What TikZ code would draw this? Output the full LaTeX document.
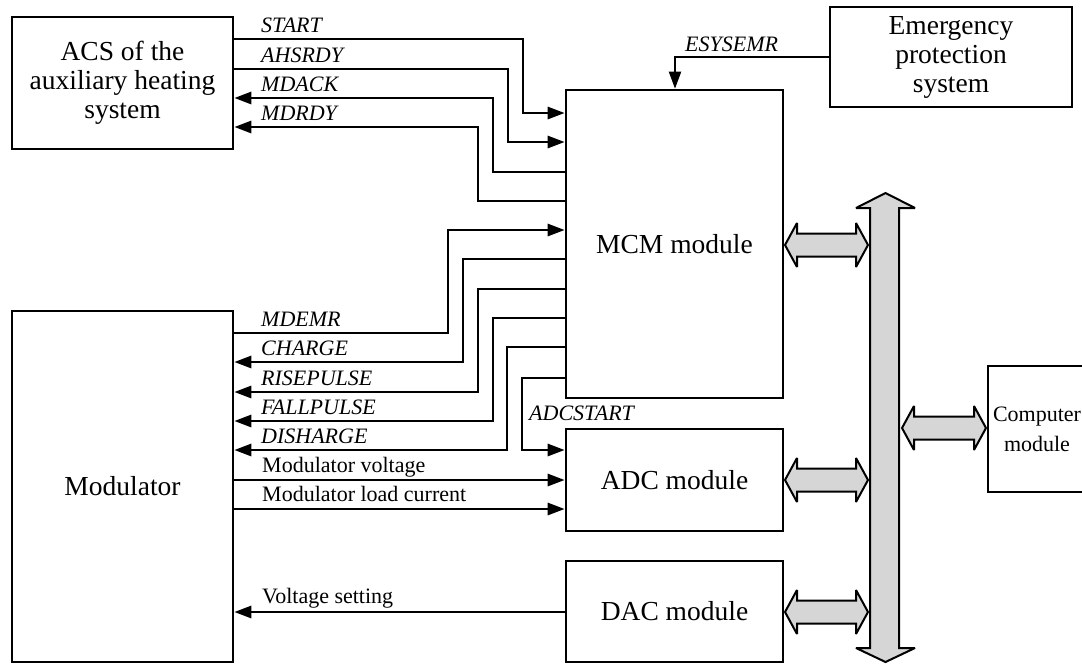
\documentclass[tikz,border=0pt]{standalone}
\usepackage{fontspec}
\setmainfont{Liberation Serif}
\usetikzlibrary{arrows.meta,calc}
\definecolor{busgray}{gray}{0.84}
\begin{document}
\begin{tikzpicture}[x=1pt,y=-1pt,
  box/.style={draw,line width=2.6pt,rectangle,align=center,inner sep=0pt,
     font=\fontsize{27.5}{29}\selectfont},
  sig/.style={line width=2.8pt},
  thinsig/.style={line width=2pt},
  tip/.style={-{Triangle[length=17pt,width=12pt]}},
  lbl/.style={anchor=base west,inner sep=0pt,font=\fontsize{22}{23}\selectfont\itshape},
  lbln/.style={anchor=base west,inner sep=0pt,font=\fontsize{22}{23}\selectfont},
  bus/.style={draw,line width=2pt,fill=busgray,line join=miter,miter limit=3}]
\useasboundingbox (0,0) rectangle (1082,664);

% boxes
\node[box,minimum width=221pt,minimum height=132pt] (acs) at (122.5,83) {ACS of the\\auxiliary heating\\system};
\node[box,minimum width=242pt,minimum height=100pt] (emg) at (951,57) {Emergency\\protection\\system};
\node[box,minimum width=217pt,minimum height=308pt] (mcm) at (674.5,244) {MCM module};
\node[box,minimum width=217pt,minimum height=102pt] (adc) at (674.5,480) {ADC module};
\node[box,minimum width=217pt,minimum height=101pt] (dac) at (674.5,611.5) {DAC module};
\node[box,minimum width=221pt,minimum height=351pt] (mod) at (122.5,486.5) {Modulator};
\begin{scope}
\clip (0,0) rectangle (1082,664);
\node[box,minimum width=98pt,minimum height=126pt,font=\fontsize{22}{30}\selectfont] (comp) at (1037,429) {Computer\\module};
\end{scope}

% ACS <-> MCM
\draw[sig,tip] (acs.east |- 0,39) -| (523,113) -- (mcm.west |- 0,113);
\draw[sig,tip] (acs.east |- 0,69) -| (508,142) -- (mcm.west |- 0,142);
\draw[sig,tip] (mcm.west |- 0,172) -| (493,98) -- (acs.east |- 0,98);
\draw[sig,tip] (mcm.west |- 0,201) -| (478,127) -- (acs.east |- 0,127);
\node[lbl] (lstart) at (261,32) {START};
\node[lbl] (lahs) at (261,62) {AHSRDY};
\node[lbl] (lmdack) at (261,91) {MDACK};
\node[lbl] (lmdrdy) at (261,120) {MDRDY};

% Emergency -> MCM
\draw[thinsig,tip] (emg.west) -| (mcm.north -| 675,0);
\node[lbl] (lesys) at (685,51) {ESYSEMR};

% Modulator <-> MCM
\draw[sig,tip] (mod.east |- 0,333) -| (448,230) -- (mcm.west |- 0,230);
\draw[sig,tip] (mcm.west |- 0,259) -| (463,362) -- (mod.east |- 0,362);
\draw[sig,tip] (mcm.west |- 0,289) -| (478,392) -- (mod.east |- 0,392);
\draw[sig,tip] (mcm.west |- 0,318) -| (493,421) -- (mod.east |- 0,421);
\draw[sig,tip] (mcm.west |- 0,347) -| (507,450) -- (mod.east |- 0,450);
\node[lbl] (lmdemr) at (261,326) {MDEMR};
\node[lbl] (lcharge) at (261,355) {CHARGE};
\node[lbl] (lrise) at (261,385) {RISEPULSE};
\node[lbl] (lfall) at (261,414) {FALLPULSE};
\node[lbl] (ldis) at (261,443) {DISHARGE};

% MCM -> ADC
\draw[sig,tip] (mcm.west |- 0,378) -| (522,450) -- (adc.west |- 0,450);
\node[lbl] (ladc) at (529,420) {ADCSTART};

% Modulator <-> ADC / DAC
\draw[sig,tip] (mod.east |- 0,480) -- (adc.west |- 0,480);
\draw[sig,tip] (mod.east |- 0,509) -- (adc.west |- 0,509);
\draw[sig,tip] (dac.west |- 0,612) -- (mod.east |- 0,612);
\node[lbln] (lmv) at (262,472) {Modulator voltage};
\node[lbln] (lmlc) at (262,501) {Modulator load current};
\node[lbln] (lvs) at (262,603) {Voltage setting};

% bus
\coordinate (busL) at (870,0);
\coordinate (busR) at (899,0);
\draw[bus] (870,208) -- (856,208) -- (885.5,193) -- (915,208) -- (899,208)
  -- (899,648) -- (915,648) -- (885.5,662) -- (856,648) -- (870,648) -- cycle;

\newcommand\busarrow[3]{%
  \draw[bus] (#1,#3) -- (#1+12,#3-22) -- (#1+12,#3-11.5) -- (#2-12,#3-11.5)
    -- (#2-12,#3-22) -- (#2,#3) -- (#2-12,#3+22) -- (#2-12,#3+11.5)
    -- (#1+12,#3+11.5) -- (#1+12,#3+22) -- cycle;}
\busarrow{785}{868}{245}
\busarrow{785}{868}{480}
\busarrow{785}{868}{612}
\busarrow{902}{986}{428}
\end{tikzpicture}
\end{document}
